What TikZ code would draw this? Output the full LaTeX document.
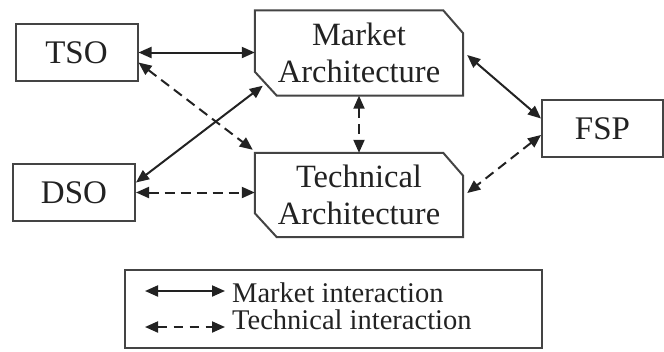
\documentclass[tikz,border=0pt]{standalone}
\usepackage{fontspec}
\setmainfont{Liberation Serif}
\usetikzlibrary{arrows.meta}
\definecolor{ink}{HTML}{222222}
\definecolor{edge}{HTML}{444444}
\tikzset{
  actor/.style={draw=edge, line width=2pt, minimum width=122pt, minimum height=57pt,
    inner sep=0pt, text=ink, font=\fontsize{33}{37}\selectfont},
  archbox/.style={minimum width=208pt, minimum height=85pt, inner sep=0pt,
    text=ink, align=center, font=\fontsize{32.5}{37}\selectfont},
  outline/.style={draw=edge, line width=2pt, line join=miter},
  link/.style={draw=ink, line width=2pt, {Triangle[length=13pt,width=11pt]}-{Triangle[length=13pt,width=11pt]}},
  market/.style={link},
  technical/.style={link, dash pattern=on 10pt off 6pt},
  legtext/.style={anchor=base west, inner sep=0pt, text=ink, font=\fontsize{28.5}{32}\selectfont},
}
\begin{document}
\begin{tikzpicture}[x=1pt,y=-1pt]
\useasboundingbox (0,0) rectangle (664,351);

% stakeholders
\node[actor] (tso) at (76.5,52.5) {TSO};
\node[actor] (dso) at (74,192.5) {DSO};
\node[actor, minimum width=121pt] (fsp) at (602.5,128.5) {FSP};

% architecture layers (chamfered outlines)
\node[archbox] (ma) at (359,53) {Market\\Architecture};
\node[archbox, minimum height=84pt] (ta) at (359,195) {Technical\\Architecture};
\foreach \b in {ma,ta}{
  \draw[outline] (\b.north west) -- ([xshift=-20pt]\b.north east)
    -- ([yshift=-23pt]\b.north east) -- (\b.south east)
    -- ([xshift=22pt]\b.south west) -- ([yshift=24pt]\b.south west) -- cycle;
}
\coordinate (macut) at ([xshift=8pt,yshift=10pt]ma.south west);

% interactions
\draw[market] (tso.east) -- (tso.east -| ma.west);
\draw[technical] ([yshift=-10pt]tso.east) -- ([xshift=-2pt,yshift=3pt]ta.north west);
\draw[market] ([yshift=10pt]dso.east) -- (macut);
\draw[technical] (dso.east) -- (dso.east -| ta.west);
\draw[technical] (ma.south) -- (ta.north);
\draw[market] ([xshift=4pt,yshift=-2pt]ma.east) -- ([yshift=10pt]fsp.west);
\draw[technical] ([yshift=-6.5pt]fsp.west) -- ([xshift=4pt,yshift=2pt]ta.east);

% legend
\node[draw=edge, line width=2pt, minimum width=417pt, minimum height=78pt, inner sep=0pt]
  (legend) at (333.5,309) {};
\coordinate (ma1) at (145,291);
\coordinate (ma2) at (225,291);
\coordinate (te1) at (145,327);
\coordinate (te2) at (225,327);
\draw[market] (ma1) -- (ma2);
\draw[link, dash pattern=on 9pt off 7pt] (te1) -- (te2);
\node[legtext] (lm) at (232,302) {Market interaction};
\node[legtext] (lt) at (232,329) {Technical interaction};
\end{tikzpicture}
\end{document}
